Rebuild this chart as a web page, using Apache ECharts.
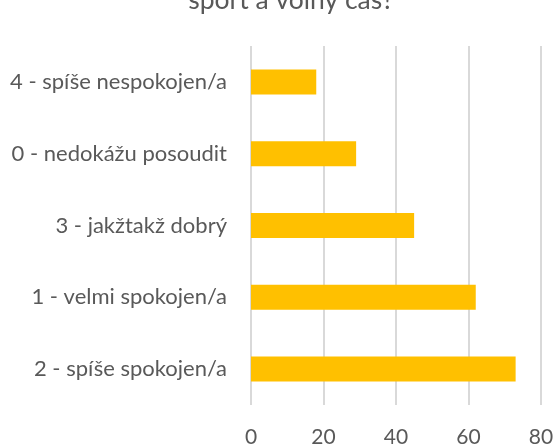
<!DOCTYPE html>
<html>
<head>
<meta charset="utf-8">
<script src="https://cdn.jsdelivr.net/npm/echarts@6/dist/echarts.min.js"></script>
<style>
  html, body { margin: 0; padding: 0; background: #fff; }
  #chart { width: 558px; height: 448px; }
</style>
</head>
<body>
<div id="chart"></div>
<script>
// odpovědi (zdola nahoru)
var categories = [
  '2 - spíše spokojen/a',
  '1 - velmi spokojen/a',
  '3 - jakžtakž dobrý',
  '0 - nedokážu posoudit',
  '4 - spíše nespokojen/a'
];
var counts = [73, 62, 45, 29, 18];
var xTicks = [0, 20, 40, 60, 80];

var chart = echarts.init(document.getElementById('chart'));

var option = {
  animation: false,
  textStyle: { fontFamily: 'Lato' },
  title: {
    text: 'sport a volný čas?',
    left: 286,
    textAlign: 'center',
    top: -18,
    textStyle: { color: '#595959', fontSize: 26.5, fontWeight: 'normal', fontFamily: 'Lato' }
  },
  grid: { left: 251, right: 17, top: 46, bottom: 43, containLabel: false },
  xAxis: {
    type: 'value',
    min: xTicks[0],
    max: xTicks[xTicks.length - 1],
    interval: 20,
    axisLine: { show: false },
    axisTick: { show: false },
    axisLabel: { color: '#595959', fontSize: 21, margin: 22 },
    splitLine: { show: true, lineStyle: { color: '#d9d9d9', width: 2 } }
  },
  yAxis: {
    type: 'category',
    data: categories,
    axisLine: { show: false },
    axisTick: { show: false },
    axisLabel: { color: '#595959', fontSize: 22, margin: 24 }
  },
  series: [
    {
      type: 'bar',
      data: counts,
      barWidth: 25,
      itemStyle: { color: '#FFC000' }
    }
  ]
};

chart.setOption(option);
</script>
</body>
</html>
